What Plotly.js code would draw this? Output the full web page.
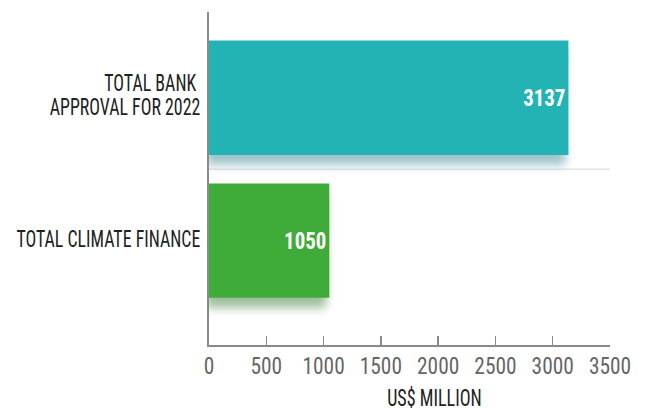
<!DOCTYPE html>
<html>
<head>
<meta charset="utf-8">
<script src="https://cdn.plot.ly/plotly-3.0.1.min.js"></script>
<style>
html,body{margin:0;padding:0;background:#fff;}
#chart{width:648px;height:412px;}
</style>
</head>
<body>
<div id="chart"></div>
<script>
const categories = ["TOTAL BANK\u00a0<br>APPROVAL FOR 2022", "TOTAL CLIMATE FINANCE"];
const values = [3137, 1050];
const barColors = ["#24b3b5", "#3fab38"];
const shadowColors = ["rgba(40,125,135,0.45)", "rgba(40,110,40,0.45)"];
const xTicks = [0, 500, 1000, 1500, 2000, 2500, 3000, 3500];
const xTitle = "US$ MILLION";

const FONT = '"Liberation Sans Narrow","Roboto Condensed","DejaVu Sans Condensed",sans-serif';

const trace = {
  type: "bar",
  orientation: "h",
  x: values,
  y: [0, 1],
  width: 0.8,
  marker: {color: barColors, line: {width: 0}},
  text: values.map(String),
  textposition: "inside",
  insidetextanchor: "end",
  textfont: {family: FONT, size: 24, color: "#ffffff", weight: "bold"},
  hoverinfo: "none",
  cliponaxis: false
};

const layout = {
  width: 648, height: 412,
  margin: {l: 209, r: 38, t: 12, b: 67},
  paper_bgcolor: "#fff", plot_bgcolor: "#fff",
  showlegend: false,
  font: {family: FONT},
  xaxis: {
    range: [0, 3500],
    tickvals: xTicks,
    ticktext: xTicks.map(String),
    showgrid: false, zeroline: false,
    showline: true, linecolor: "#8a8a8a", linewidth: 2,
    ticks: "inside", ticklen: 9, tickwidth: 1.5, tickcolor: "#8a8a8a",
    tickfont: {family: FONT, size: 23, color: "#666"},
    ticklabelstandoff: -1,
    fixedrange: true
  },
  yaxis: {
    range: [1.73, -0.6],
    tickvals: [0, 1],
    ticktext: categories,
    showgrid: false, zeroline: false,
    showline: true, linecolor: "#8a8a8a", linewidth: 2,
    ticks: "",
    ticklabelstandoff: 2,
    tickfont: {family: FONT, size: 23.5, color: "#222"},
    fixedrange: true
  },
  shapes: [{
    type: "line", xref: "paper", yref: "y",
    x0: 0, x1: 1, y0: 0.5, y1: 0.5,
    line: {color: "#e4e4ec", width: 1.5},
    layer: "below"
  }],
  annotations: [{
    text: xTitle, xref: "paper", yref: "paper",
    x: 0.563, y: 0, yshift: -53, xanchor: "center", yanchor: "middle",
    showarrow: false,
    font: {family: FONT, size: 23.5, color: "#222"}
  }]
};

function condense(el, f, align, dyPx) {
  const b0 = el.getBBox();
  const len = el.getComputedTextLength();
  el.setAttribute("textLength", (len * f).toFixed(2));
  el.setAttribute("lengthAdjust", "spacingAndGlyphs");
  const b1 = el.getBBox();
  let d = 0;
  if (align === "end") d = (b0.x + b0.width) - (b1.x + b1.width);
  else if (align === "middle") d = (b0.x + b0.width / 2) - (b1.x + b1.width / 2);
  else d = b0.x - b1.x;
  if (Math.abs(d) > 0.01) {
    const x = parseFloat(el.getAttribute("x") || "0");
    el.setAttribute("x", (x + d).toFixed(2));
  }
  if (dyPx) {
    const y = parseFloat(el.getAttribute("y") || "0");
    el.setAttribute("y", (y + dyPx).toFixed(2));
  }
}

Plotly.newPlot("chart", [trace], layout, {displayModeBar: false, staticPlot: true}).then(function(gd){
  gd.querySelectorAll(".bars .point path").forEach(function(p, i){
    p.style.filter = "drop-shadow(-3px 10px 5px " + shadowColors[i] + ")";
  });
  gd.querySelectorAll("g.ytick text").forEach(function(t){
    const lines = t.querySelectorAll("tspan.line");
    if (lines.length) {
      lines.forEach(function(s, i){
        const len = s.getComputedTextLength();
        s.setAttribute("textLength", (len * 0.76).toFixed(2));
        s.setAttribute("lengthAdjust", "spacingAndGlyphs");
        s.setAttribute("dy", (0.0 + i * 1.04).toFixed(2) + "em");
      });
    } else {
      condense(t, 0.76, "end", -2);
    }
  });
  gd.querySelectorAll("g.xtick text").forEach(function(t){ condense(t, 0.93, "middle"); });
  gd.querySelectorAll(".bars .point text").forEach(function(t){ condense(t, 0.87, "end"); });
  gd.querySelectorAll(".annotation-text").forEach(function(t){ condense(t, 0.77, "middle"); });
});
</script>
</body>
</html>
